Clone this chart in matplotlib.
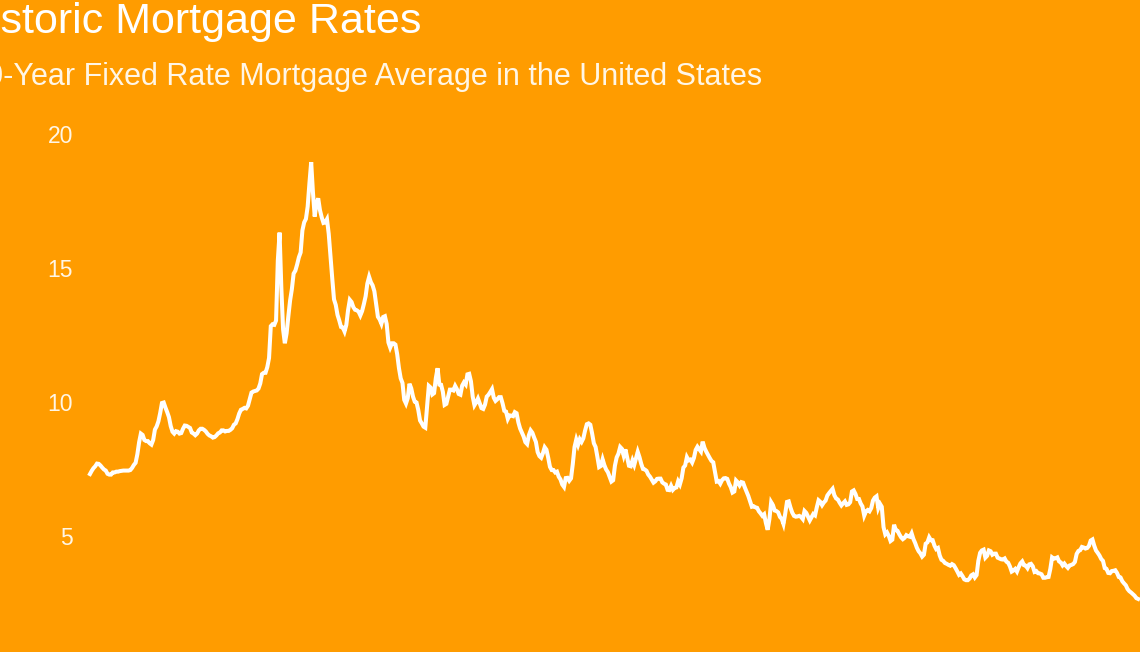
import numpy as np
import matplotlib
matplotlib.use('Agg')
import matplotlib.pyplot as plt

# 30-year fixed mortgage rate, monthly (percent)
rates_1970s = [
    7.31, 7.43, 7.53, 7.60, 7.70, 7.69, 7.63, 7.55, 7.48,                       # 1971 (Apr-Dec)
    7.44, 7.32, 7.29, 7.29, 7.37, 7.37, 7.40, 7.40, 7.42, 7.43, 7.44, 7.44,     # 1972
    7.44, 7.44, 7.46, 7.54, 7.65, 7.73, 8.05, 8.50, 8.82, 8.77, 8.58, 8.54,     # 1973
    8.54, 8.46, 8.41, 8.58, 8.97, 9.09, 9.28, 9.59, 9.96, 9.98, 9.79, 9.62,     # 1974
    9.43, 9.10, 8.89, 8.82, 8.91, 8.89, 8.82, 8.84, 9.00, 9.12, 9.11, 9.07,     # 1975
    9.03, 8.86, 8.82, 8.76, 8.82, 8.94, 9.00, 9.00, 8.96, 8.90, 8.81, 8.75,     # 1976
    8.72, 8.67, 8.69, 8.75, 8.83, 8.86, 8.94, 8.94, 8.90, 8.92, 8.92, 8.96,     # 1977
    9.02, 9.15, 9.20, 9.36, 9.57, 9.71, 9.74, 9.78, 9.76, 9.86, 10.11, 10.35,   # 1978
    10.39, 10.41, 10.43, 10.50, 10.69, 11.04, 11.09, 11.09, 11.30, 11.64, 12.83, 12.90,  # 1979
]
rates_1980s = [
    12.88, 13.04, 15.28, 16.32, 14.26, 12.71, 12.19, 12.56, 13.20, 13.79, 14.21, 14.79,  # 1980
    14.90, 15.13, 15.40, 15.58, 16.40, 16.70, 16.83, 17.29, 18.16, 18.95, 17.83, 16.92,  # 1981
    17.40, 17.60, 17.16, 16.89, 16.68, 16.70, 16.82, 16.27, 15.43, 14.61, 13.83, 13.62,  # 1982
    13.25, 13.04, 12.80, 12.78, 12.63, 12.87, 13.42, 13.81, 13.73, 13.54, 13.44, 13.42,  # 1983
    13.37, 13.23, 13.39, 13.65, 13.94, 14.42, 14.67, 14.47, 14.35, 14.13, 13.64, 13.18,  # 1984
    13.08, 12.92, 13.17, 13.20, 12.91, 12.22, 12.03, 12.19, 12.19, 12.14, 11.78, 11.26,  # 1985
    10.88, 10.71, 10.08, 9.94, 10.14, 10.68, 10.51, 10.20, 10.01, 9.98, 9.70, 9.31,      # 1986
    9.20, 9.08, 9.04, 9.83, 10.60, 10.54, 10.28, 10.33, 10.89, 11.26, 10.65, 10.64,      # 1987
    10.38, 9.89, 9.93, 10.20, 10.46, 10.46, 10.43, 10.60, 10.48, 10.30, 10.27, 10.61,    # 1988
    10.73, 10.65, 11.03, 11.05, 10.77, 10.20, 9.88, 9.99, 10.13, 9.95, 9.77, 9.74,       # 1989
]
rates_1990s = [
    9.90, 10.20, 10.27, 10.37, 10.48, 10.16, 10.04, 10.10, 10.18, 10.18, 9.95, 9.67,     # 1990
    9.64, 9.37, 9.50, 9.49, 9.47, 9.62, 9.58, 9.24, 9.01, 8.86, 8.71, 8.50,              # 1991
    8.43, 8.76, 8.94, 8.85, 8.67, 8.51, 8.13, 7.98, 7.92, 8.09, 8.31, 8.22,              # 1992
    7.92, 7.58, 7.46, 7.46, 7.37, 7.40, 7.21, 7.11, 6.92, 6.83, 7.16, 7.17,              # 1993
    7.06, 7.15, 7.68, 8.32, 8.60, 8.40, 8.61, 8.51, 8.64, 8.93, 9.17, 9.20,              # 1994
    9.15, 8.83, 8.46, 8.32, 7.96, 7.57, 7.61, 7.86, 7.64, 7.48, 7.38, 7.20,              # 1995
    7.03, 7.08, 7.62, 7.93, 8.07, 8.32, 8.25, 8.00, 8.23, 7.92, 7.62, 7.60,              # 1996
    7.82, 7.65, 7.90, 8.14, 7.94, 7.69, 7.50, 7.48, 7.43, 7.29, 7.21, 7.10,              # 1997
    6.99, 7.04, 7.13, 7.14, 7.14, 7.00, 6.95, 6.92, 6.72, 6.71, 6.87, 6.72,              # 1998
    6.79, 6.81, 7.04, 6.92, 7.15, 7.55, 7.63, 7.94, 7.82, 7.85, 7.74, 7.91,              # 1999
]
rates_2000s = [
    8.21, 8.33, 8.24, 8.15, 8.52, 8.29, 8.15, 8.03, 7.91, 7.80, 7.75, 7.38,              # 2000
    7.03, 7.05, 6.95, 7.08, 7.15, 7.16, 7.13, 6.95, 6.82, 6.62, 6.66, 7.07,              # 2001
    7.00, 6.89, 7.01, 6.99, 6.81, 6.65, 6.49, 6.29, 6.09, 6.11, 6.07, 6.05,              # 2002
    5.92, 5.84, 5.75, 5.81, 5.48, 5.23, 5.63, 6.26, 6.15, 5.95, 5.93, 5.88,              # 2003
    5.71, 5.64, 5.45, 5.83, 6.27, 6.29, 6.06, 5.87, 5.75, 5.72, 5.73, 5.75,              # 2004
    5.71, 5.63, 5.93, 5.86, 5.72, 5.58, 5.70, 5.82, 5.77, 6.07, 6.33, 6.27,              # 2005
    6.15, 6.25, 6.32, 6.51, 6.60, 6.68, 6.76, 6.52, 6.40, 6.36, 6.24, 6.14,              # 2006
    6.22, 6.29, 6.16, 6.18, 6.26, 6.66, 6.70, 6.57, 6.38, 6.38, 6.21, 6.10,              # 2007
    5.76, 5.92, 5.97, 5.92, 6.04, 6.32, 6.43, 6.48, 6.04, 6.20, 6.09, 5.33,              # 2008
    5.06, 5.13, 5.00, 4.81, 4.86, 5.42, 5.22, 5.19, 5.06, 4.95, 4.88, 4.93,              # 2009
]
rates_2010s = [
    5.03, 4.99, 4.97, 5.10, 4.89, 4.74, 4.56, 4.43, 4.35, 4.23, 4.30, 4.71,              # 2010
    4.76, 4.95, 4.84, 4.84, 4.64, 4.51, 4.55, 4.27, 4.11, 4.07, 3.99, 3.96,              # 2011
    3.92, 3.89, 3.95, 3.91, 3.80, 3.68, 3.55, 3.60, 3.50, 3.38, 3.35, 3.35,              # 2012
    3.41, 3.53, 3.57, 3.45, 3.54, 4.07, 4.37, 4.46, 4.49, 4.19, 4.26, 4.46,              # 2013
    4.43, 4.30, 4.34, 4.34, 4.19, 4.16, 4.13, 4.12, 4.16, 4.04, 4.00, 3.86,              # 2014
    3.67, 3.71, 3.77, 3.67, 3.84, 3.98, 4.05, 3.91, 3.89, 3.80, 3.94, 3.96,              # 2015
    3.87, 3.66, 3.69, 3.61, 3.60, 3.57, 3.44, 3.44, 3.46, 3.47, 3.77, 4.20,              # 2016
    4.15, 4.17, 4.20, 4.05, 4.01, 3.90, 3.97, 3.88, 3.81, 3.90, 3.92, 3.95,              # 2017
    4.03, 4.33, 4.44, 4.47, 4.59, 4.57, 4.53, 4.55, 4.63, 4.83, 4.87, 4.64,              # 2018
    4.46, 4.37, 4.27, 4.14, 4.07, 3.80, 3.77, 3.62, 3.61, 3.69, 3.70, 3.72,              # 2019
]
rates_2020s = [
    3.62, 3.47, 3.45, 3.31, 3.23, 3.16, 3.02, 2.94, 2.89, 2.83, 2.77, 2.68,              # 2020
    2.65,                                                                                # 2021 (Jan)
]

start_year, start_month = 1971, 4
yticks = [5, 10, 15, 20]
title = 'Historic Mortgage Rates'
subtitle = '30-Year Fixed Rate Mortgage Average in the United States'

bg = '#ff9c00'

rates = np.array(rates_1970s + rates_1980s + rates_1990s + rates_2000s
                 + rates_2010s + rates_2020s)
years = start_year + (start_month - 1) / 12 + np.arange(len(rates)) / 12

fig = plt.figure(figsize=(11.4, 6.52), dpi=100, facecolor=bg)
ax = fig.add_axes([0, 0, 1, 1], facecolor=bg)

ax.plot(years, rates, color='white', lw=2.9, solid_joinstyle='miter')

ax.set_xlim(1966.98, 2021.09)
ax.set_ylim(0.67, 25.0)
ax.set_xticks([])
ax.set_yticks(yticks)
ax.set_yticklabels([str(t) for t in yticks], fontsize=16.5,
                   color='#fff6e6', family='Liberation Sans')
ax.tick_params(axis='y', length=0, pad=-52.5)
for s in ax.spines.values():
    s.set_visible(False)

# the reference is cropped on the left, so both headings run off the edge
fig.text(421 / 1140, 1 - 33 / 652, title, ha='right', va='baseline',
         fontsize=31, color='white', family='Liberation Sans')
fig.text(762 / 1140, 1 - 85 / 652, subtitle, ha='right', va='baseline',
         fontsize=22.0, color='#fff6e6', family='Liberation Sans')

fig.savefig('out.png', dpi=100, facecolor=bg)
